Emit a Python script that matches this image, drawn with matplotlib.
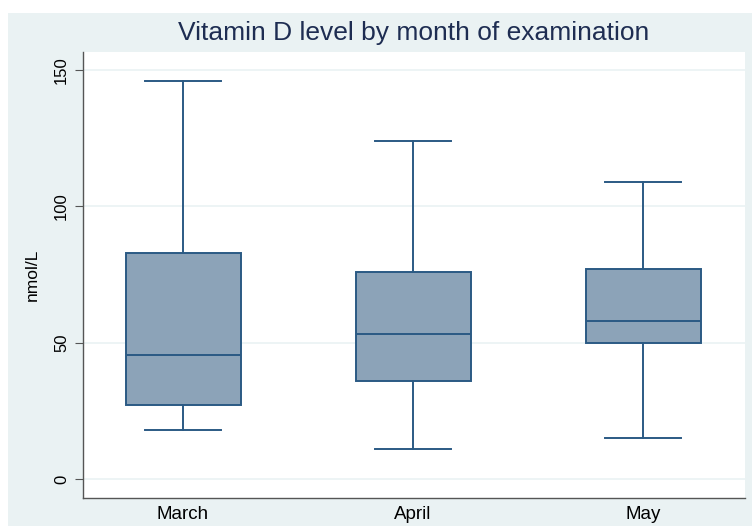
import matplotlib.pyplot as plt
from matplotlib.patches import Rectangle

plt.rcParams["font.family"] = ["Liberation Sans", "DejaVu Sans"]

months = ["March", "April", "May"]
whisker_low = [18, 11, 15]
q1 = [27, 36, 50]
median = [45.5, 53, 58]
q3 = [83, 76, 77]
whisker_high = [146, 124, 109]

box_fill = "#8ca3b8"
box_edge = "#2b5a84"
bg = "#eaf2f3"
title_color = "#1e2d52"

W, H = 752, 526
fig = plt.figure(figsize=(W / 100, H / 100), dpi=100)
fig.patch.set_facecolor("white")
fig.patches.append(Rectangle((8 / W, 0), 1 - 8 / W, 1 - 13 / H,
                             transform=fig.transFigure, facecolor=bg,
                             edgecolor="none", zorder=-10))

ax = fig.add_axes([83 / W, 28 / H, 662 / W, 446 / H])
ax.set_facecolor("white")

stats = []
for i, m in enumerate(months):
    stats.append({"label": m, "whislo": whisker_low[i], "q1": q1[i],
                  "med": median[i], "q3": q3[i], "whishi": whisker_high[i],
                  "fliers": []})

lw = 1.4
ax.bxp(stats, positions=[1, 2, 3], widths=0.5, patch_artist=True,
       showfliers=False,
       boxprops=dict(facecolor=box_fill, edgecolor=box_edge, linewidth=lw),
       medianprops=dict(color=box_edge, linewidth=lw),
       whiskerprops=dict(color=box_edge, linewidth=lw),
       capprops=dict(color=box_edge, linewidth=lw),
       capwidths=0.33)

ax.set_xlim(0.565, 3.443)
ax.set_ylim(-7, 156.6)
ax.set_yticks([0, 50, 100, 150])
ax.set_yticklabels(["0", "50", "100", "150"], rotation=90, va="center")
ax.yaxis.grid(True, color=bg, linewidth=1.2)
ax.set_axisbelow(True)

for s in ["top", "right"]:
    ax.spines[s].set_visible(False)
for s in ["left", "bottom"]:
    ax.spines[s].set_color("#555555")
    ax.spines[s].set_linewidth(1.0)

ax.tick_params(axis="y", length=6, width=0.8, color="#555555",
               labelsize=12, pad=4)
ax.tick_params(axis="x", length=0, labelsize=13.5, pad=6)
ax.set_ylabel("nmol/L", fontsize=12.5, labelpad=10)

fig.text(414 / W, 1 - 33 / H, "Vitamin D level by month of examination",
         ha="center", va="center", fontsize=19, color=title_color)

fig.savefig("out.png", dpi=100)
